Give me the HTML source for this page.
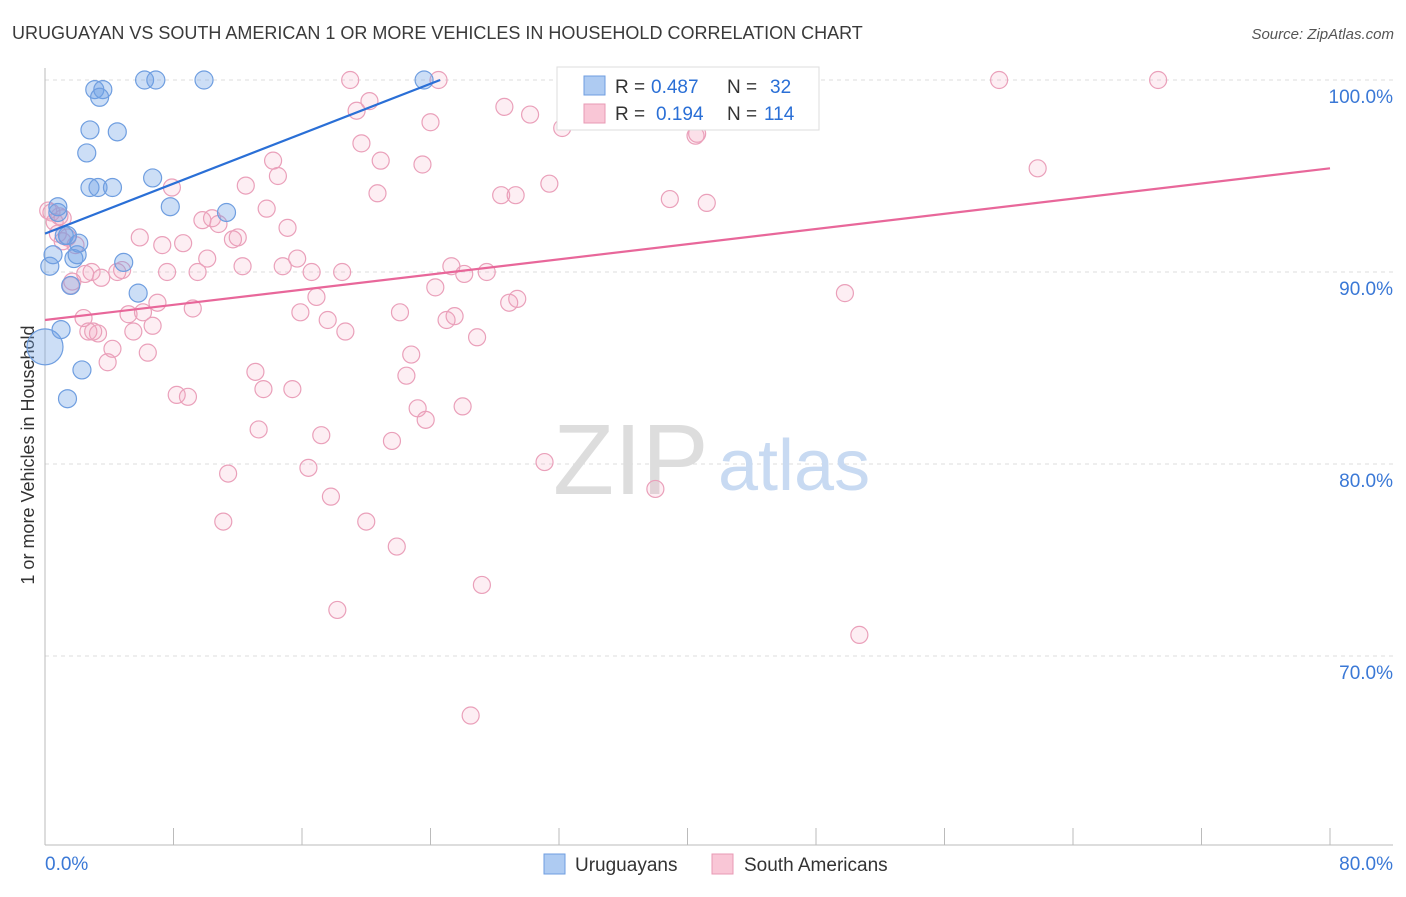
<!DOCTYPE html>
<html><head><meta charset="utf-8">
<style>
body{margin:0;background:#fff;font-family:"Liberation Sans",sans-serif;}
svg text{font-family:"Liberation Sans",sans-serif;}
</style></head>
<body>
<svg id="chart" width="1406" height="892" xmlns="http://www.w3.org/2000/svg">
<text x="12" y="39" font-size="18" fill="#3a3a3a">URUGUAYAN VS SOUTH AMERICAN 1 OR MORE VEHICLES IN HOUSEHOLD CORRELATION CHART</text>
<text x="1394" y="39" font-size="15" fill="#555" text-anchor="end" font-style="italic">Source: ZipAtlas.com</text>
<text x="34" y="455" font-size="18" fill="#333" text-anchor="middle" transform="rotate(-90 34 455)">1 or more Vehicles in Household</text>
<g id="grid"></g>
<g id="axes"></g>
<text x="553" y="494" font-size="100" fill="#ddd" font-family="Liberation Serif">ZIP</text>
<text x="718" y="490" font-size="72" fill="#c8daf2">atlas</text>
<g id="pink"></g>
<g id="blue"></g>
<g id="lines"></g>
<g>
<rect x="557" y="67" width="262" height="63" fill="#fff" stroke="#ddd"/>
<rect x="584" y="76" width="21" height="19" fill="#aecbf2" stroke="#6f9ee0"/>
<rect x="584" y="104" width="21" height="19" fill="#f9c6d6" stroke="#e89ab4"/>
<g font-size="19">
<text x="615" y="93" fill="#333">R =</text><text x="651" y="93" fill="#2a6fd6">0.487</text>
<text x="727" y="93" fill="#333">N =</text><text x="770" y="93" fill="#2a6fd6">32</text></g>
<g font-size="19">
<text x="615" y="120" fill="#333">R =</text><text x="656" y="120" fill="#2a6fd6">0.194</text>
<text x="727" y="120" fill="#333">N =</text><text x="764" y="120" fill="#2a6fd6">114</text></g>
</g>
<g>
<rect x="544" y="854" width="21" height="20" fill="#aecbf2" stroke="#6f9ee0"/>
<text x="575" y="871" font-size="19" fill="#333">Uruguayans</text>
<rect x="712" y="854" width="21" height="20" fill="#f9c6d6" stroke="#e89ab4"/>
<text x="744" y="871" font-size="19" fill="#333">South Americans</text>
</g>
</svg>
<script>
const xTickVals=[0,8,16,24,32,40,48,56,64,72,80];
const yTickVals=[70,80,90,100];
const yTickLabels=["70.0%","80.0%","90.0%","100.0%"];
const blueX=[0,0.3,0.5,1.0,0.8,0.8,1.2,1.6,1.8,2.0,2.3,1.4,2.1,2.6,2.8,2.8,3.1,3.6,3.4,3.3,4.2,4.5,4.9,5.8,6.7,6.2,6.9,7.8,9.9,11.3,23.6,1.4];
const blueY=[86.1,90.3,90.9,87.0,93.1,93.4,91.9,89.3,90.7,90.9,84.9,83.4,91.5,96.2,97.4,94.4,99.5,99.5,99.1,94.4,94.4,97.3,90.5,88.9,94.9,100,100,93.4,100,93.1,100,91.9];
const blueR=[18,9,9,9,9,9,9,9,9,9,9,9,9,9,9,9,9,9,9,9,9,9,9,9,9,9,9,9,9,9,9,9];
const pinkX=[0.4,0.6,0.9,1.1,0.2,0.8,1.1,1.4,1.9,1.7,2.4,2.7,2.9,3.3,3.5,3.9,4.2,4.5,5.2,5.5,5.9,6.1,6.4,6.7,7.0,7.3,7.6,7.9,8.2,8.6,8.9,9.2,9.5,9.8,10.1,10.4,10.8,11.1,11.4,11.7,12.0,12.3,12.5,13.1,13.3,13.6,13.8,14.2,14.5,14.8,15.1,15.4,15.7,15.9,16.4,16.6,16.9,17.2,17.6,17.8,18.2,18.5,18.7,19.0,19.4,19.7,20.0,20.2,20.7,20.9,21.6,21.9,22.1,22.5,22.8,23.2,23.5,23.7,24.0,24.3,24.5,25.0,25.3,25.5,26.0,26.1,26.5,26.9,27.2,27.5,28.6,28.4,28.9,29.3,29.4,30.2,31.1,31.4,32.2,32.6,37.0,38.0,38.9,40.5,40.6,41.2,44.0,49.8,50.7,59.4,61.8,69.3,3.0,2.5,4.8,1.6];
const pinkY=[93.1,92.6,92.9,92.8,93.2,92.0,91.6,91.8,91.4,89.5,87.6,86.9,90.0,86.8,89.7,85.3,86.0,90.0,87.8,86.9,91.8,87.9,85.8,87.2,88.4,91.4,90.0,94.4,83.6,91.5,83.5,88.1,90.0,92.7,90.7,92.8,92.5,77.0,79.5,91.7,91.8,90.3,94.5,84.8,81.8,83.9,93.3,95.8,95.0,90.3,92.3,83.9,90.7,87.9,79.8,90.0,88.7,81.5,87.5,78.3,72.4,90.0,86.9,100,98.4,96.7,77.0,98.9,94.1,95.8,81.2,75.7,87.9,84.6,85.7,82.9,95.6,82.3,97.8,89.2,100,87.5,90.3,87.7,83.0,89.9,66.9,86.6,73.7,90.0,98.6,94.0,88.4,94.0,88.6,98.2,80.1,94.6,97.5,100,100,78.7,93.8,97.1,97.2,93.6,98.6,88.9,71.1,100,95.4,100,86.9,89.9,90.1,89.3];
const blueLine=[0,92.0,24.6,100];
const pinkLine=[0,87.5,80,95.4];
const X0=45,X1=1330,Y100=80,PPU=19.2;
function sx(v){return X0+(v/80)*(X1-X0);}
function sy(v){return Y100+(100-v)*PPU;}
const NS="http://www.w3.org/2000/svg";
function mk(tag,attrs,parent){const e=document.createElementNS(NS,tag);for(const k in attrs)e.setAttribute(k,attrs[k]);parent.appendChild(e);return e;}
const grid=document.getElementById('grid'),axes=document.getElementById('axes');
yTickVals.forEach((v,i)=>{
 const l=mk('line',{x1:45,x2:1393,y1:sy(v),y2:sy(v),stroke:'#ddd','stroke-dasharray':'4,4'},grid);
 
 
 const t=mk('text',{x:1393,y:sy(v)+23,'font-size':19,fill:'#3a78d6','text-anchor':'end'},axes);
 t.textContent=yTickLabels[i];
 
 
});
mk('line',{x1:45,x2:45,y1:68,y2:845,stroke:'#bbb'},axes);
mk('line',{x1:45,x2:1393,y1:845,y2:845,stroke:'#bbb'},axes);
xTickVals.forEach(v=>{
 const l=mk('line',{x1:sx(v),x2:sx(v),y1:828,y2:845,stroke:'#bbb'},axes);
 
 
});
const xl0=mk('text',{x:45,y:870,'font-size':19,fill:'#3a78d6'},axes);xl0.textContent='0.0%';


const xl1=mk('text',{x:1393,y:870,'font-size':19,fill:'#3a78d6','text-anchor':'end'},axes);xl1.textContent='80.0%';


const pg=document.getElementById('pink');
pinkX.forEach((x,i)=>{
 const c=mk('circle',{cx:sx(x),cy:sy(pinkY[i]),r:8.5,fill:'rgba(244,160,190,0.18)',stroke:'#eaa0ba','stroke-width':1.2},pg);
 
 
});
const bg=document.getElementById('blue');
blueX.forEach((x,i)=>{
 const c=mk('circle',{cx:sx(x),cy:sy(blueY[i]),r:blueR[i],fill:'rgba(110,160,230,0.35)',stroke:'#6f9ee0','stroke-width':1.2},bg);
 
 
});
const lg=document.getElementById('lines');
const bl=mk('line',{x1:sx(blueLine[0]),y1:sy(blueLine[1]),x2:sx(blueLine[2]),y2:sy(blueLine[3]),stroke:'#2a6fd6','stroke-width':2.2},lg);


const pl=mk('line',{x1:sx(pinkLine[0]),y1:sy(pinkLine[1]),x2:sx(pinkLine[2]),y2:sy(pinkLine[3]),stroke:'#e8679a','stroke-width':2.2},lg);


</script>
</body></html>
